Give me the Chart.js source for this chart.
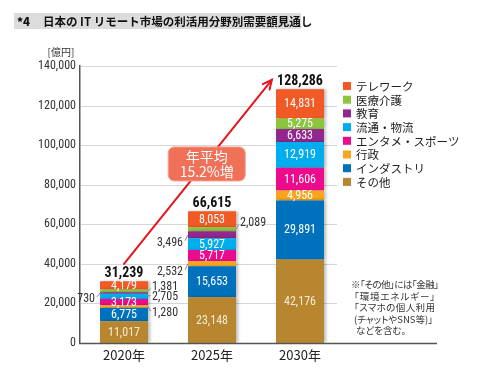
<!DOCTYPE html>
<html><head><meta charset="utf-8">
<script src="https://cdn.jsdelivr.net/npm/chart.js@4"></script>
<style>
html,body{margin:0;padding:0;background:#fff;}
#wrap{position:relative;width:500px;height:378px;overflow:hidden;}
canvas{position:absolute;left:0;top:0;}
#title{position:absolute;left:14px;top:13px;width:287px;height:16px;background:#dcdcdc;font:bold 11.5px 'Noto Sans CJK JP',sans-serif;line-height:16px;white-space:nowrap;color:#111;}
#title b{display:inline-block;width:26px;padding-left:3px;}
#note{position:absolute;left:351px;top:279px;font:9.5px 'Noto Sans CJK JP',sans-serif;line-height:11.5px;color:#333;font-feature-settings:"palt";}
#note div{white-space:nowrap;}
#note .j{text-align:justify;text-align-last:justify;}
</style></head>
<body>
<div id="wrap">
<canvas id="c" width="500" height="378"></canvas>
<div id="title"><b>*4</b>日本の IT リモート市場の利活用分野別需要額見通し</div>
<div id="note">
<div class="j" style="width:84px;letter-spacing:-0.5px">※「その他」には「金融」</div>
<div class="j" style="width:81px;margin-left:3px">「環境エネルギー」</div>
<div class="j" style="width:81px;margin-left:3px">「スマホの個人利用</div>
<div class="j" style="width:79px;margin-left:3px">(チャットやSNS等)」</div>
<div style="margin-left:5px">などを含む。</div>
</div>
</div>
<script>
// ---- data ----
const categories = ['2020年', '2025年', '2030年'];
const seriesNames = ['その他', 'インダストリ', '行政', 'エンタメ・スポーツ', '流通・物流', '教育', '医療介護', 'テレワーク'];
const sonota   = [11017, 23148, 42176];
const industry = [6775, 15653, 29891];
const gyosei   = [1280, 2532, 4956];
const entame   = [3173, 5717, 11606];
const ryutsu   = [2705, 5927, 12919];
const kyoiku   = [730, 3496, 6633];
const iryo     = [1381, 2089, 5275];
const telework = [4179, 8053, 14831];
const totals   = [31239, 66615, 128286];
const yTicks   = [0, 20000, 40000, 60000, 80000, 100000, 120000, 140000];
const unitLabel = '[億円]';
const growthText = ['年平均', '15.2%増'];

// ---- styles ----
const seriesValues = [sonota, industry, gyosei, entame, ryutsu, kyoiku, iryo, telework];
const colors = ['#b8862f', '#0071bc', '#f8a51b', '#ec0b8c', '#00adee', '#92278f', '#8cc63f', '#f15a24'];
// labels placed outside the bar: key "series-category" -> [side, vertical offset px]
const outside = {
  '5-0': ['left', 6], '6-0': ['right', -4], '4-0': ['right', 1], '2-0': ['right', 6.5],
  '5-1': ['left', 8], '2-1': ['left', 8], '6-1': ['right', -6]
};
const NUM = "'Liberation Sans Narrow','Roboto Condensed','Roboto',sans-serif";
const JP = "'Noto Sans CJK JP',sans-serif";
const fmt = v => v.toLocaleString('en-US');

const overlay = {
  id: 'overlay',
  beforeDatasetsDraw(chart) {
    const {ctx, chartArea: a, scales: {y}} = chart;
    ctx.save();
    ctx.strokeStyle = '#d6d6d6'; ctx.lineWidth = 1;
    yTicks.forEach(v => {
      if (v === 0) return;
      const py = Math.round(y.getPixelForValue(v)) + 0.5;
      ctx.beginPath(); ctx.moveTo(a.left + 1, py); ctx.lineTo(337, py); ctx.stroke();
    });
    ctx.restore();
    ctx.save();
    ctx.shadowColor = 'rgba(0,0,0,0.28)'; ctx.shadowBlur = 3; ctx.shadowOffsetX = 2;
  },
  afterDatasetsDraw(chart) {
    const {ctx, chartArea: a, scales: {x, y}} = chart;
    ctx.restore();
    // x axis line
    ctx.save();
    ctx.strokeStyle = '#555'; ctx.lineWidth = 1.5;
    ctx.beginPath(); ctx.moveTo(a.left - 0.75, a.bottom + 0.5); ctx.lineTo(437, a.bottom + 0.5); ctx.stroke();
    // unit
    ctx.fillStyle = '#333'; ctx.font = '10px ' + JP; ctx.textAlign = 'center'; ctx.textBaseline = 'middle';
    ctx.fillText(unitLabel, 61, 52);
    // segment labels
    chart.data.datasets.forEach((ds, di) => {
      const meta = chart.getDatasetMeta(di);
      meta.data.forEach((bar, i) => {
        const cy = (bar.y + bar.base) / 2;
        const txt = fmt(ds.data[i]);
        const o = outside[di + '-' + i];
        ctx.font = '12px ' + NUM;
        if (!o) {
          ctx.fillStyle = di === 0 ? '#f5ead6' : '#ffffff';
          ctx.textAlign = 'center'; ctx.textBaseline = 'middle';
          ctx.fillText(txt, bar.x, cy + 0.5);
        } else {
          const left = o[0] === 'left';
          const edge = left ? bar.x - bar.width / 2 : bar.x + bar.width / 2;
          const ty = cy + o[1];
          const tx = left ? edge - 4 : edge + 3;
          ctx.strokeStyle = '#666'; ctx.lineWidth = 0.8;
          ctx.beginPath(); ctx.moveTo(edge, cy); ctx.lineTo(left ? tx + 1 : tx - 0.5, ty - (o[1] > 0 ? 2 : -2)); ctx.stroke();
          ctx.fillStyle = '#333'; ctx.textBaseline = 'middle';
          ctx.textAlign = left ? 'right' : 'left';
          ctx.fillText(txt, left ? tx - 1 : tx + 1, ty);
        }
      });
    });
    // totals
    const topMeta = chart.getDatasetMeta(chart.data.datasets.length - 1);
    ctx.fillStyle = '#111'; ctx.font = 'bold 14px ' + NUM; ctx.textAlign = 'center'; ctx.textBaseline = 'middle';
    topMeta.data.forEach((bar, i) => ctx.fillText(fmt(totals[i]), bar.x, bar.y - 8));
    // arrow
    const x0 = x.getPixelForValue(0), y0 = y.getPixelForValue(40000);
    const x1 = x.getPixelForValue(1.68), y1 = y.getPixelForValue(133000);
    ctx.strokeStyle = '#e8141b'; ctx.lineWidth = 2; ctx.lineCap = 'round';
    ctx.beginPath(); ctx.moveTo(x0, y0); ctx.lineTo(x1, y1); ctx.stroke();
    const ang = Math.atan2(y1 - y0, x1 - x0), hl = 10;
    ctx.beginPath();
    ctx.moveTo(x1 - hl * Math.cos(ang - 0.45), y1 - hl * Math.sin(ang - 0.45));
    ctx.lineTo(x1, y1);
    ctx.lineTo(x1 - hl * Math.cos(ang + 0.45), y1 - hl * Math.sin(ang + 0.45));
    ctx.stroke();
    // callout
    const bx = x.getPixelForValue(0.94), by = y.getPixelForValue(90500);
    const bw = 77, bh = 34;
    ctx.fillStyle = '#f07058'; ctx.strokeStyle = '#f6a28f'; ctx.lineWidth = 1;
    ctx.beginPath(); ctx.roundRect(bx - bw / 2, by - bh / 2, bw, bh, 6); ctx.fill(); ctx.stroke();
    ctx.fillStyle = '#fff'; ctx.font = '14px ' + JP; ctx.textAlign = 'center'; ctx.textBaseline = 'middle';
    ctx.fillText(growthText[0], bx, by - 7);
    ctx.fillText(growthText[1], bx, by + 8);
    // legend
    ctx.textAlign = 'left'; ctx.font = '11.5px ' + JP;
    const n = chart.data.datasets.length;
    for (let k = 0; k < n; k++) {
      const ds = chart.data.datasets[n - 1 - k];
      const ly = 86 + k * 13.7;
      ctx.fillStyle = ds.backgroundColor;
      ctx.fillRect(343, ly - 4, 8, 8);
      ctx.fillStyle = '#222';
      ctx.fillText(ds.label, 356, ly + 0.5);
    }
    ctx.restore();
  }
};

new Chart(document.getElementById('c'), {
  type: 'bar',
  data: {
    labels: categories,
    datasets: seriesNames.map((name, i) => ({
      label: name, data: seriesValues[i], backgroundColor: colors[i], borderWidth: 0
    }))
  },
  options: {
    responsive: false, animation: false, devicePixelRatio: 1,
    layout: {padding: {top: 66, right: 156, left: 0, bottom: 0}},
    datasets: {bar: {barPercentage: 48 / 88, categoryPercentage: 1}},
    plugins: {legend: {display: false}, tooltip: {enabled: false}, title: {display: false}},
    scales: {
      x: {
        stacked: true,
        grid: {display: false, drawTicks: false},
        border: {display: false},
        ticks: {color: '#222', font: {family: JP, size: 13}, padding: 4},
        afterFit(s) { s.height = 35; }
      },
      y: {
        stacked: true, min: 0, max: 140000,
        grid: {display: false, drawTicks: false},
        border: {display: true, color: '#555', width: 1.5},
        ticks: {stepSize: 20000, color: '#333', font: {family: NUM, size: 12}, padding: 4,
                callback: v => fmt(v)},
        afterFit(s) { s.width = 80; }
      }
    }
  },
  plugins: [overlay]
});
</script>
</body></html>
